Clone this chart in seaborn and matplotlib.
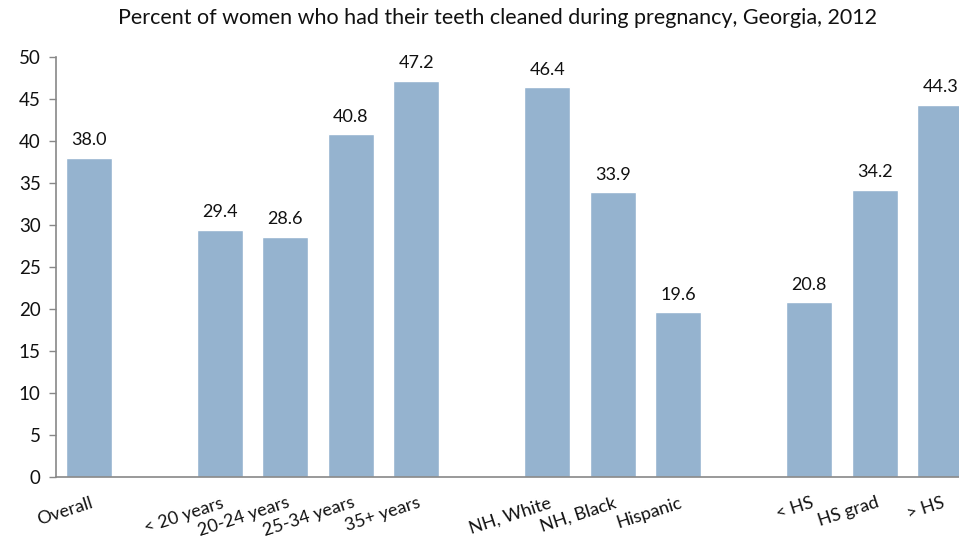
import matplotlib
matplotlib.use("Agg")
import matplotlib.pyplot as plt
import matplotlib.transforms as mtrans
import seaborn as sns
import pandas as pd

categories = ["Overall", "< 20 years", "20-24 years", "25-34 years", "35+ years",
              "NH, White", "NH, Black", "Hispanic", "< HS", "HS grad", "> HS"]
values = [38.0, 29.4, 28.6, 40.8, 47.2, 46.4, 33.9, 19.6, 20.8, 34.2, 44.3]
order = ["Overall", " ", "< 20 years", "20-24 years", "25-34 years", "35+ years",
         "  ", "NH, White", "NH, Black", "Hispanic", "   ", "< HS", "HS grad", "> HS"]
title = "Percent of women who had their teeth cleaned during pregnancy, Georgia, 2012"

sns.set_style("white")
plt.rcParams["font.family"] = ["Lato", "DejaVu Sans"]

df = pd.DataFrame({"cat": categories, "val": values})
fig = plt.figure(figsize=(9.59, 5.36), dpi=100)
ax = fig.add_axes([56 / 959, 59 / 536, 917 / 959, 420 / 536])
sns.barplot(data=df, x="cat", y="val", order=order, color="#95B3CF",
            saturation=1, width=0.7, ax=ax)
for c in ax.containers:
    ax.bar_label(c, fmt="%.1f", padding=7, fontsize=13, color="#111111")
ax.set_xlim(-0.5, 13.5)
ax.set_ylim(0, 50)
ax.set_yticks(range(0, 51, 5))
ax.set_xlabel("")
ax.set_ylabel("")
for s in ["top", "right"]:
    ax.spines[s].set_visible(False)
for s in ["left", "bottom"]:
    ax.spines[s].set_color("#888888")
    ax.spines[s].set_linewidth(1.2)
ax.tick_params(axis="y", left=True, length=5, width=1, color="#888888",
               labelsize=13.5, labelcolor="#111111", pad=6)
ax.tick_params(axis="x", bottom=False, labelsize=13, labelcolor="#111111")
ax.set_xticks(range(len(order)))
ax.set_xticklabels(order, rotation=18, ha="right", va="top",
                   rotation_mode="anchor")
for lab in ax.get_xticklabels():
    lab.set_transform(lab.get_transform() + mtrans.ScaledTranslation(1 / 100, -8 / 100, fig.dpi_scale_trans))
fig.text(497 / 959, 1 - 18 / 536, title, ha="center", va="center", fontsize=15.5, color="#111111")
fig.savefig("out.png", dpi=100)
